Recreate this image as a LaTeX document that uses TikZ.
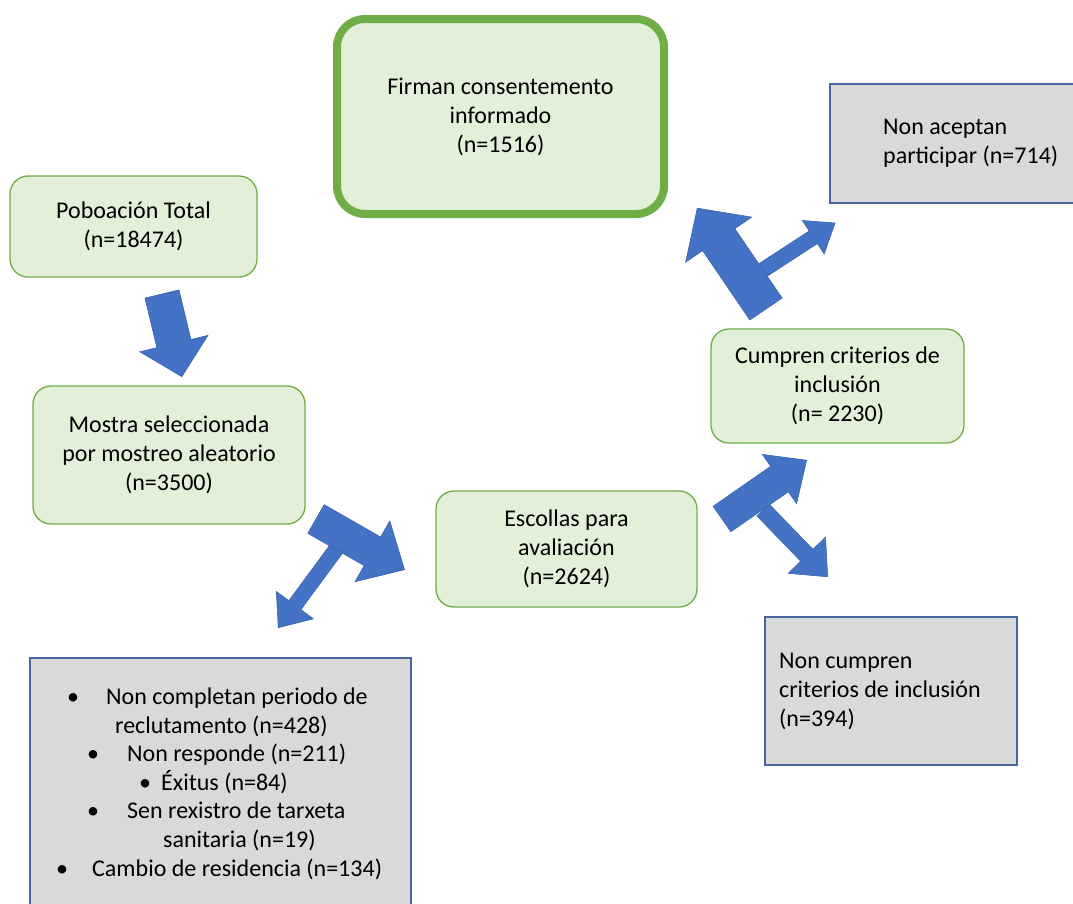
\documentclass[tikz,border=0pt]{standalone}
\usepackage{fontspec}
\setmainfont{Carlito}
\definecolor{arrowblue}{HTML}{4472C4}
\definecolor{arrowedge}{HTML}{3B64AD}
\definecolor{fillgreen}{HTML}{E2F0D9}
\definecolor{boxgreen}{HTML}{70AD47}
\definecolor{fillgray}{HTML}{D9D9D9}
\definecolor{boxblue}{HTML}{4A66A0}
\newcommand{\blockarrow}[7]{%
  \begin{scope}[shift={(#1,#2)},rotate=#3]
    \filldraw[fill=arrowblue,draw=arrowedge,line width=0.6pt,line join=miter]
      (0,{-#5/2}) -- ({#4-#7},{-#5/2}) -- ({#4-#7},{-#6/2}) -- (#4,0)
      -- ({#4-#7},{#6/2}) -- ({#4-#7},{#5/2}) -- (0,{#5/2}) -- cycle;
  \end{scope}}
\begin{document}
\begin{tikzpicture}[x=1pt,y=-1pt,
  every node/.style={font=\fontsize{24}{29}\selectfont},
  greenbox/.style={draw=boxgreen,line width=1.3pt,fill=fillgreen,rounded corners=18pt,align=center,inner sep=0pt},
  graybox/.style={draw=boxblue,line width=1.3pt,fill=fillgray,inner sep=0pt},
  txt/.style={anchor=base west,inner sep=0pt},
  bul/.style={anchor=base,inner sep=0pt}]
\useasboundingbox (0,0) rectangle (1073,903);

% boxes
\node[greenbox,minimum width=247pt,minimum height=101pt] (pob) at (133.5,226.5) {Poboación Total\\(n=18474)};
\node[greenbox,minimum width=272pt,minimum height=138pt] (mostra) at (169,455) {Mostra seleccionada\\por mostreo aleatorio\\(n=3500)};
\node[greenbox,minimum width=261pt,minimum height=116pt] (escollas) at (566.5,549) {Escollas para\\avaliación\\(n=2624)};
\node[greenbox,minimum width=253pt,minimum height=114pt] (cumpren) at (837.5,386) {Cumpren criterios de\\inclusión\\(n= 2230)};
\node[greenbox,line width=8pt,rounded corners=28pt,minimum width=327pt,minimum height=195pt] (firman) at (500.5,116.5) {Firman consentemento\\informado\\(n=1516)};

\node[graybox,minimum width=246pt,minimum height=119pt] (aceptan) at (953,143.5) {};
\node[anchor=west,align=left,inner sep=0pt] (aceptantxt) at (883,143.5) {Non aceptan\\participar (n=714)};

\node[graybox,minimum width=252pt,minimum height=148pt] (noncumpren) at (891,691) {};
\node[anchor=west,align=left,inner sep=0pt] (noncumprentxt) at (779,691) {Non cumpren\\criterios de inclusión\\(n=394)};

\node[graybox,minimum width=381pt,minimum height=256pt] (lista) at (220.5,786) {};
\node[bul] (b1) at (73,704) {\textbullet};
\node[txt] (l1) at (106,704) {Non completan periodo de};
\node[txt] (l2) at (115,733) {reclutamento (n=428)};
\node[bul] (b3) at (93,761) {\textbullet};
\node[txt] (l3) at (127,761) {Non responde (n=211)};
\node[bul] (b4) at (145,790) {\textbullet};
\node[txt] (l4) at (161,790) {Éxitus (n=84)};
\node[bul] (b5) at (93,818) {\textbullet};
\node[txt] (l5) at (127,818) {Sen rexistro de tarxeta};
\node[txt] (l6) at (163,847) {sanitaria (n=19)};
\node[bul] (b7) at (62,876) {\textbullet};
\node[txt] (l7) at (92,876) {Cambio de residencia (n=134)};

% block arrows
\blockarrow{162}{294}{-76.5}{85}{35}{70}{34}
\blockarrow{337}{548}{-126.4}{99}{15}{46}{28}
\blockarrow{316}{519}{-29.8}{102}{33}{70}{37}
\blockarrow{763}{510}{-45.9}{93}{17}{52}{30}
\blockarrow{722}{519}{34.8}{103}{31}{60}{33}
\blockarrow{763}{270}{33.1}{86}{15}{40}{26}
\blockarrow{766}{309}{124.3}{122}{39}{80}{38}
\end{tikzpicture}
\end{document}
